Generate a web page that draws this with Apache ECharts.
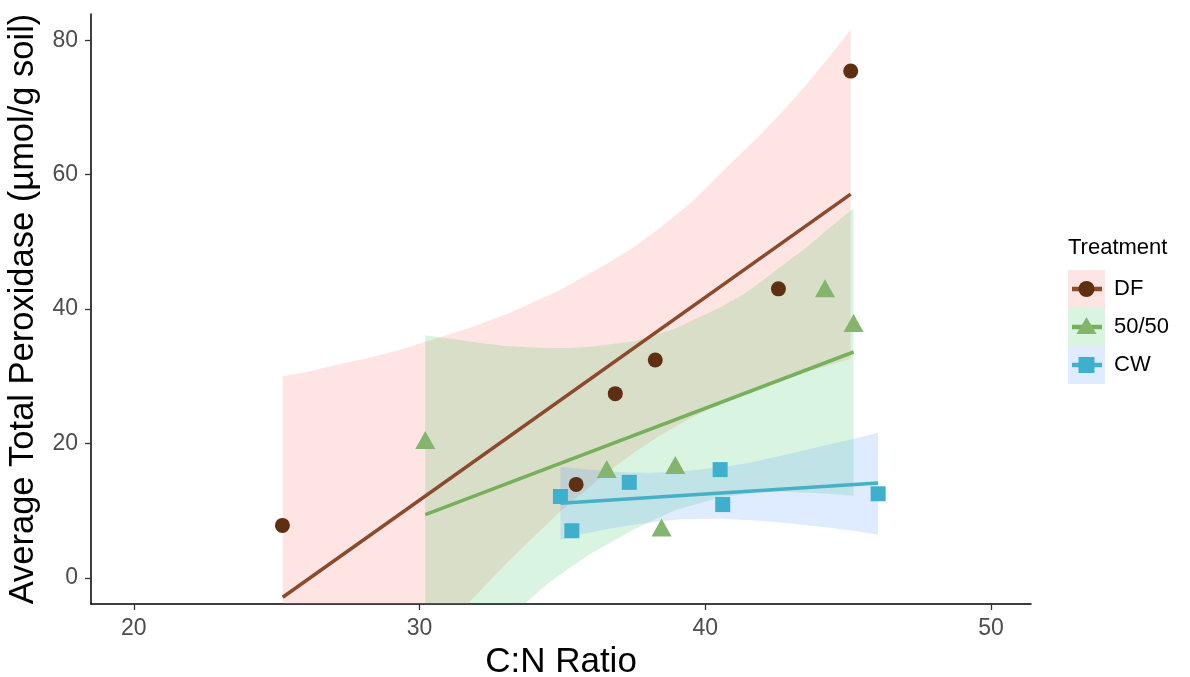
<!DOCTYPE html>
<html>
<head>
<meta charset="utf-8">
<script src="https://cdn.jsdelivr.net/npm/echarts@6/dist/echarts.min.js"></script>
<style>
html,body{margin:0;padding:0;background:#fff;}
#chart{width:1190px;height:677px;}
</style>
</head>
<body>
<div id="chart"></div>
<script>
// ---------- Data ----------
const treatments = ['DF', '50/50', 'CW'];

// points [C:N ratio, peroxidase]
const dfPoints   = [[25.20, 7.8], [35.48, 13.9], [36.85, 27.4], [38.25, 32.4], [42.56, 43.0], [45.09, 75.4]];
const mixPoints  = [[30.20, 20.5], [36.55, 16.2], [38.47, 7.5], [38.95, 16.8], [44.19, 43.1], [45.19, 37.9]];
const cwPoints   = [[34.93, 12.1], [35.33, 7.0], [37.34, 14.2], [40.52, 16.1], [40.61, 10.9], [46.05, 12.5]];

// fitted lines (end points)
const dfFit  = [[25.21, -2.9], [45.09, 57.1]];
const mixFit = [[30.20, 9.4], [45.19, 33.6]];
const cwFit  = [[34.93, 11.1], [46.05, 14.1]];

// confidence bands: x, lower, upper
const dfBandX     = [25.21, 26.0, 27.0, 28.2, 29.3, 30.5, 31.81, 33.15, 34.9, 36.5, 37.5, 38.39, 39.5, 40.49, 41.89, 42.7, 43.5, 44.3, 45.09];
const dfBandLower = [-35.8, -31.7, -26.6, -20.6, -15.2, -9.1, -3.3, 2.6, 9.8, 15.5, 18.6, 21.1, 23.8, 25.8, 28.3, 29.5, 30.6, 31.6, 32.6];
const dfBandUpper = [30.0, 30.6, 31.6, 32.7, 33.9, 35.5, 37.3, 39.4, 42.8, 46.6, 49.2, 52.0, 55.8, 60.0, 65.8, 69.4, 73.2, 77.3, 81.6];

const mixBandX     = [30.20, 31.5, 32.2, 33.0, 33.8, 34.5, 35.3, 36.0, 37.5, 38.9, 40.5, 41.3, 42.0, 42.7, 43.5, 44.3, 45.19];
const mixBandLower = [-17.3, -12.2, -9.3, -6.4, -3.4, -0.8, 1.6, 3.6, 7.2, 10.0, 11.9, 12.4, 12.7, 12.8, 12.7, 12.5, 12.2];
const mixBandUpper = [36.1, 35.3, 34.9, 34.5, 34.3, 34.2, 34.2, 34.4, 35.2, 37.0, 40.2, 42.1, 44.2, 46.5, 49.0, 51.9, 55.0];

const cwBandX     = [34.93, 35.7, 36.5, 37.2, 38.0, 39.12, 40.5, 41.5, 42.5, 43.4, 44.3, 45.2, 46.05];
const cwBandLower = [5.7, 6.5, 7.2, 7.7, 8.2, 8.7, 8.8, 8.6, 8.3, 7.9, 7.5, 7.0, 6.4];
const cwBandUpper = [16.5, 16.2, 15.9, 15.7, 15.6, 15.8, 16.4, 17.1, 18.0, 18.9, 19.8, 20.7, 21.6];

const xTicks = [20, 30, 40, 50];
const yTicks = [0, 20, 40, 60, 80];

// ---------- Styles ----------
const FONT = 'Liberation Sans, Arial, Helvetica, sans-serif';
const pointColors = ['#5f2f12', '#84b56e', '#3fb0cc'];
const lineColors  = ['#8b4a2b', '#76b05a', '#45b0c8'];
const bandColors  = ['rgba(248,118,109,0.2)', 'rgba(0,186,56,0.15)', 'rgba(97,156,255,0.2)'];
const symbols     = ['circle', 'triangle', 'rect'];
const symbolSizes = [15, [20, 18], 15];

const pointSets = [dfPoints, mixPoints, cwPoints];
const fits = [dfFit, mixFit, cwFit];
const bands = [
  [dfBandX, dfBandLower, dfBandUpper],
  [mixBandX, mixBandLower, mixBandUpper],
  [cwBandX, cwBandLower, cwBandUpper]
];

const series = [];
// points first (drawn below ribbons)
treatments.forEach((t, i) => {
  series.push({
    name: t, type: 'scatter', data: pointSets[i],
    symbol: symbols[i], symbolSize: symbolSizes[i],
    itemStyle: { color: pointColors[i], opacity: 1 }, silent: true
  });
});
// ribbons + lines per group
treatments.forEach((t, i) => {
  const [bx, lo, up] = bands[i];
  const rows = bx.map((x, k) => [x, lo[k], up[k]]);
  series.push({
    name: t + ' band', type: 'custom', clip: true, silent: true,
    data: rows,
    encode: { x: 0, y: [1, 2] },
    renderItem: function (params, api) {
      if (params.dataIndex !== 0) return null;
      const top = rows.map(r => api.coord([r[0], r[2]]));
      const bottom = rows.map(r => api.coord([r[0], r[1]])).reverse();
      return {
        type: 'polygon',
        shape: { points: top.concat(bottom) },
        style: { fill: bandColors[i], stroke: null }
      };
    }
  });
  series.push({
    name: t + ' fit', type: 'line', data: fits[i], symbol: 'none',
    lineStyle: { color: lineColors[i], width: 3.5 }, silent: true
  });
});

// ---------- Legend (drawn with graphic elements) ----------
const legendX = 1068, keyW = 37, keyH = 38, legendTop = 270;
const graphics = [{
  type: 'text', left: legendX, top: 237,
  style: { text: 'Treatment', font: '22px ' + FONT, fill: '#000' }
}];
treatments.forEach((t, i) => {
  const y0 = legendTop + i * keyH;
  const cy = y0 + keyH / 2;
  graphics.push({ type: 'rect', shape: { x: legendX, y: y0, width: keyW, height: keyH }, style: { fill: bandColors[i] } });
  graphics.push({ type: 'line', shape: { x1: legendX + 4, y1: cy, x2: legendX + keyW - 3, y2: cy }, style: { stroke: lineColors[i], lineWidth: 4.5 } });
  if (i === 0) {
    graphics.push({ type: 'circle', shape: { cx: legendX + keyW / 2, cy: cy, r: 8 }, style: { fill: pointColors[i] } });
  } else if (i === 1) {
    const cx = legendX + keyW / 2;
    graphics.push({ type: 'polygon', shape: { points: [[cx, cy - 10], [cx - 10, cy + 7], [cx + 10, cy + 7]] }, style: { fill: pointColors[i] } });
  } else {
    graphics.push({ type: 'rect', shape: { x: legendX + keyW / 2 - 8, y: cy - 8, width: 16, height: 16 }, style: { fill: pointColors[i] } });
  }
  graphics.push({
    type: 'text', x: legendX + keyW + 9, y: cy,
    style: { text: t, font: '22px ' + FONT, fill: '#000', verticalAlign: 'middle' }
  });
});

const chart = echarts.init(document.getElementById('chart'), null, { renderer: 'canvas' });
chart.setOption({
  animation: false,
  backgroundColor: '#fff',
  grid: { left: 91, right: 159, top: 14, bottom: 73, containLabel: false, outerBoundsMode: 'none' },
  xAxis: {
    type: 'value', min: 18.5, max: 51.4,
    name: 'C:N Ratio', nameLocation: 'middle', nameGap: 41,
    nameTextStyle: { fontSize: 35, color: '#000', fontFamily: FONT },
    axisLine: { show: true, onZero: false, lineStyle: { color: '#000', width: 1.5 } },
    axisTick: { show: true, length: 6, customValues: xTicks, lineStyle: { color: '#333', width: 1.3 } },
    axisLabel: { customValues: xTicks, fontSize: 23, color: '#4d4d4d', fontFamily: FONT, margin: 13 },
    splitLine: { show: false }
  },
  yAxis: {
    type: 'value', min: -3.9, max: 83.9,
    name: 'Average Total Peroxidase (µmol/g soil)', nameLocation: 'middle', nameGap: 50,
    nameTextStyle: { fontSize: 34.5, color: '#000', fontFamily: FONT },
    axisLine: { show: true, onZero: false, lineStyle: { color: '#000', width: 1.5 } },
    axisTick: { show: true, length: 6, customValues: yTicks, lineStyle: { color: '#333', width: 1.3 } },
    axisLabel: { customValues: yTicks, fontSize: 23, color: '#4d4d4d', fontFamily: FONT, margin: 13 },
    splitLine: { show: false }
  },
  series: series,
  graphic: graphics
});
</script>
</body>
</html>
